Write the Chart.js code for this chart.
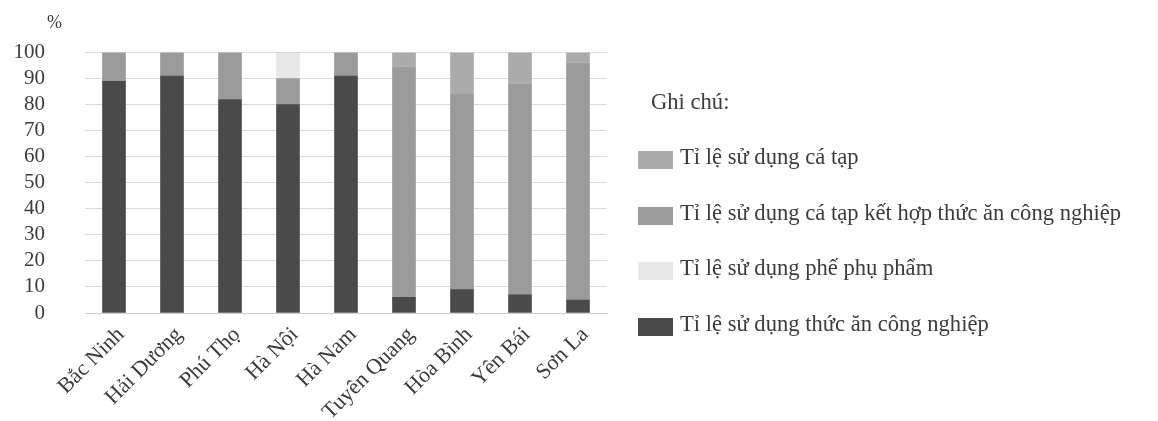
<!DOCTYPE html>
<html lang="vi">
<head>
<meta charset="UTF-8" />
<title>Tỉ lệ sử dụng thức ăn</title>
<script src="https://cdn.jsdelivr.net/npm/chart.js"></script>
<style>
    html, body { margin: 0; padding: 0; background: #fff; }
    #wrap { position: relative; width: 1158px; height: 421px; font-family: "Liberation Serif", "DejaVu Serif", serif; color: #3c3c3c; }
    #chart { position: absolute; left: 0; top: 0; }
    #unit { position: absolute; left: 47px; top: 12px; font-size: 18px; }
    #legend { position: absolute; left: 638px; top: 74px; font-size: 22.6px; }
    #legend .row { height: 55.5px; display: flex; align-items: center; white-space: nowrap; }
    #legend .title { padding-left: 13px; }
    #legend .box { width: 35px; height: 18px; margin-right: 7px; position: relative; top: 3px; }
</style>
</head>
<body>
<div id="wrap">
    <canvas id="chart" width="1158" height="421"></canvas>
    <span id="unit">%</span>
    <div id="legend"></div>
</div>

<script>
// values, percent
const provinces = ['Bắc Ninh', 'Hải Dương', 'Phú Thọ', 'Hà Nội', 'Hà Nam', 'Tuyên Quang', 'Hòa Bình', 'Yên Bái', 'Sơn La'];
const thucAnCongNghiep = [89, 91, 82, 80, 91, 6, 9, 7, 5];
const caTapKetHop = [11, 9, 18, 10, 9, 88.5, 75, 81, 91];
const phePhuPham = [0, 0, 0, 10, 0, 0, 0, 0, 0];
const caTap = [0, 0, 0, 0, 0, 5.5, 16, 12, 4];
const yTicks = [0, 10, 20, 30, 40, 50, 60, 70, 80, 90, 100];

const serif = '"Liberation Serif", "DejaVu Serif", serif';

// stacking order, bottom first
const datasets = [
    { label: 'Tỉ lệ sử dụng thức ăn công nghiệp', data: thucAnCongNghiep, backgroundColor: '#4b4a4a' },
    { label: 'Tỉ lệ sử dụng cá tạp kết hợp thức ăn công nghiệp', data: caTapKetHop, backgroundColor: '#9b9b9b' },
    { label: 'Tỉ lệ sử dụng phế phụ phẩm', data: phePhuPham, backgroundColor: '#e8e8e8' },
    { label: 'Tỉ lệ sử dụng cá tạp', data: caTap, backgroundColor: '#ababab' }
];
// order of the legend rows in the picture
const legendOrder = [3, 1, 2, 0];

const chart = new Chart(document.getElementById('chart'), {
    type: 'bar',
    data: {
        labels: provinces,
        datasets: datasets.map(d => Object.assign({ barThickness: 23, borderWidth: 0 }, d))
    },
    options: {
        responsive: false,
        animation: false,
        layout: { padding: { top: 47, right: 551, bottom: 0, left: 0 } },
        plugins: {
            legend: { display: false },
            tooltip: { enabled: false }
        },
        scales: {
            x: {
                stacked: true,
                grid: { display: false, drawTicks: false },
                border: { color: '#cfcfcf' },
                afterFit: s => { s.height = 108; },
                ticks: {
                    minRotation: 45,
                    maxRotation: 45,
                    padding: 9,
                    labelOffset: 7,
                    color: '#3c3c3c',
                    font: { family: serif, size: 22 }
                }
            },
            y: {
                stacked: true,
                min: 0,
                max: 100,
                afterFit: s => { s.width = 85; },
                afterBuildTicks: s => { s.ticks = yTicks.map(v => ({ value: v })); },
                grid: { color: '#dadada', drawTicks: false },
                border: { display: false },
                ticks: {
                    autoSkip: false,
                    stepSize: 10,
                    padding: 40,
                    color: '#3c3c3c',
                    font: { family: serif, size: 21 }
                }
            }
        }
    }
});

// legend on the right
const legend = document.getElementById('legend');
legend.innerHTML = '<div class="row title">Ghi chú:</div>';
legendOrder.forEach(i => {
    const ds = chart.data.datasets[i];
    const row = document.createElement('div');
    row.className = 'row';
    row.innerHTML = '<span class="box" style="background:' + ds.backgroundColor + '"></span><span></span>';
    row.lastChild.textContent = ds.label;
    legend.appendChild(row);
});
</script>
</body>
</html>
